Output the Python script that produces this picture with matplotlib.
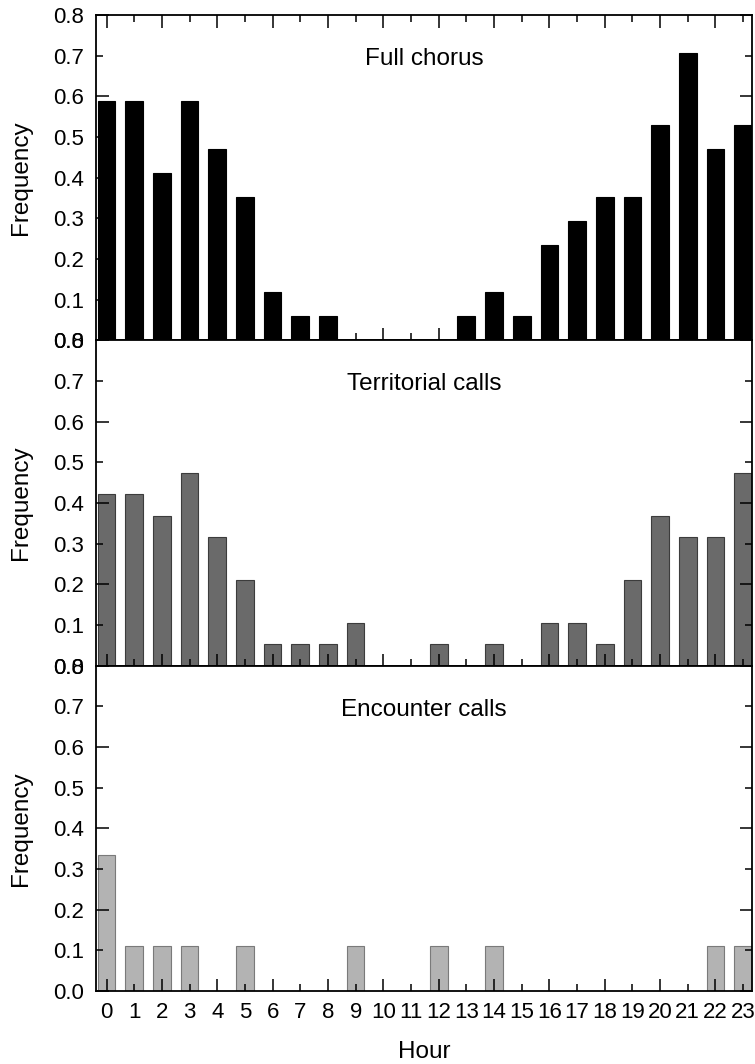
import numpy as np
import matplotlib.pyplot as plt
from matplotlib.ticker import MultipleLocator, FormatStrFormatter

plt.rcParams['font.family'] = ['Liberation Sans', 'DejaVu Sans']

# ── data: frequencies per hour ───────────────────────────────────────────────
hours = np.arange(24)
full_chorus = np.array([10, 10, 7, 10, 8, 6, 2, 1, 1, 0, 0, 0,
                        0, 1, 2, 1, 4, 5, 6, 6, 9, 12, 8, 9]) / 17
territorial = np.array([8, 8, 7, 9, 6, 4, 1, 1, 1, 2, 0, 0,
                        1, 0, 1, 0, 2, 2, 1, 4, 7, 6, 6, 9]) / 19
encounter = np.array([3, 1, 1, 1, 0, 1, 0, 0, 0, 1, 0, 0,
                      1, 0, 1, 0, 0, 0, 0, 0, 0, 0, 1, 1]) / 9

panels = [
    ('Full chorus', full_chorus, '#000000', '#000000'),
    ('Territorial calls', territorial, '#6a6a6a', '#3c3c3c'),
    ('Encounter calls', encounter, '#b3b3b3', '#7a7a7a'),
]

fig = plt.figure(figsize=(7.55, 10.64), dpi=100)
left, right = 96 / 755, 752 / 755
top, bottom = 1 - 15 / 1064, 1 - 991 / 1064
h = (top - bottom) / 3

for i, (title, vals, fc, ec) in enumerate(panels):
    ax = fig.add_axes([left, top - (i + 1) * h, right - left, h])
    ax.bar(hours, vals, width=0.64, color=fc, edgecolor=ec, linewidth=0.8)
    ax.set_xlim(-0.38, 23.32)
    ax.set_ylim(0, 0.8)

    ax.xaxis.set_major_locator(MultipleLocator(2))
    ax.xaxis.set_minor_locator(MultipleLocator(1))
    ax.yaxis.set_major_locator(MultipleLocator(0.2))
    ax.set_yticks(np.arange(0, 0.81, 0.1), minor=True)
    ax.tick_params(which='both', direction='in', width=1.1,
                   left=True, right=True, top=(i == 0), bottom=True,
                   labelsize=16)
    ax.tick_params(which='major', length=9)
    ax.tick_params(which='minor', length=5)

    # every tenth gets a label on y
    ax.yaxis.set_minor_formatter(FormatStrFormatter('%.1f'))
    ax.yaxis.set_major_formatter(FormatStrFormatter('%.1f'))
    ax.tick_params(axis='y', which='both', labelleft=True, pad=8.5)

    if i == 2:
        ax.xaxis.set_minor_formatter(FormatStrFormatter('%d'))
        ax.xaxis.set_major_formatter(FormatStrFormatter('%d'))
        ax.tick_params(axis='x', which='both', labelbottom=True, pad=8)
        ax.set_xlabel('Hour', fontsize=17.5, labelpad=13)
    else:
        ax.tick_params(axis='x', which='both', labelbottom=False)

    for s in ax.spines.values():
        s.set_linewidth(1.3)

    ax.set_ylabel('Frequency', fontsize=17.5, labelpad=15)
    ax.text(0.5, 0.865, title, transform=ax.transAxes, ha='center',
            va='center', fontsize=17.5)

fig.savefig('out.png', dpi=100)
